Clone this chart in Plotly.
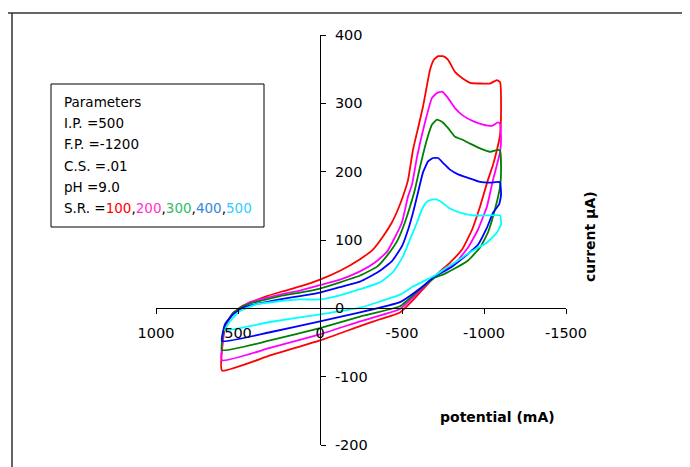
import plotly.graph_objects as go

# ---- data (potential mV, current uA) ----
scan_rates = ["100", "200", "300", "400", "500"]

pot_100 = [598, 579, 530, 470, 409, 323, 226, 122, 0, -122, -244, -323, -384, -439, -476, -506, -537, -567, -598, -628,
           -671, -695, -720, -750, -780, -823, -866, -915, -976, -1037, -1079, -1098, -1104, -1098, -1079, -1055, -1024,
           -976, -927, -866, -793, -732, -689, -628, -567, -488, -366, -244, 0, 305, 598]
cur_100 = [-91, -28, -7, 4, 10, 18, 25, 32, 42, 55, 72, 86, 105, 126, 145, 164, 188, 232, 264, 295,
           349, 364, 369, 369, 364, 346, 337, 330, 329, 329, 334, 331, 291, 254, 232, 210, 188,
           149, 115, 86, 67, 54, 44, 28, 12, -6, -16, -26, -47, -69, -91]

pot_200 = [598, 579, 530, 470, 427, 244, 122, 0, -122, -244, -335, -409, -457, -500, -537, -561, -592, -640, -683, -713,
           -744, -780, -823, -872, -933, -994, -1049, -1085, -1098, -1104, -1098, -1079, -1055, -1018, -963, -903, -835,
           -762, -701, -610, -488, -244, 0, 305, 598]
cur_200 = [-76, -26, -7, 3, 9, 20, 26, 34, 42, 54, 67, 83, 104, 126, 164, 181, 222, 272, 308, 315,
           317, 308, 293, 282, 274, 269, 267, 272, 270, 247, 229, 210, 188, 149, 115, 89, 69,
           57, 47, 26, -1, -19, -38, -58, -76]

pot_300 = [598, 579, 530, 470, 427, 244, 122, 0, -122, -244, -348, -415, -476, -518, -549, -579, -610, -652, -683, -713,
           -744, -780, -823, -866, -915, -976, -1037, -1085, -1098, -1104, -1098, -1067, -1024, -976, -903, -835, -756,
           -701, -610, -488, -244, 0, 305, 598]
cur_300 = [-61, -25, -7, 3, 7, 18, 23, 29, 38, 48, 61, 79, 101, 126, 149, 174, 207, 247, 269, 276,
           273, 264, 251, 247, 241, 234, 229, 232, 231, 203, 178, 145, 111, 89, 70, 60, 50,
           45, 28, 3, -12, -29, -47, -61]

pot_400 = [598, 579, 530, 470, 427, 244, 122, 0, -122, -244, -354, -439, -500, -537, -567, -592, -628, -659, -689, -720,
           -750, -793, -842, -903, -976, -1037, -1085, -1098, -1104, -1092, -1055, -1018, -963, -884, -805, -732, -701,
           -610, -488, -244, 0, 305, 598]
cur_400 = [-48, -23, -9, 1, 4, 13, 18, 23, 31, 39, 53, 69, 91, 115, 140, 164, 199, 215, 220, 220,
           213, 203, 196, 191, 185, 184, 185, 184, 166, 152, 140, 118, 93, 76, 61, 51, 47,
           29, 9, -6, -19, -35, -48]

pot_500 = [579, 549, 488, 384, 262, 122, 0, -122, -244, -366, -445, -506, -549, -592, -622, -652, -683, -713, -744, -793,
           -854, -933, -1018, -1098, -1104, -1079, -1018, -957, -896, -835, -774, -713, -652, -567, -488, -366, -244,
           0, 305, 579]
cur_500 = [-32, -19, -4, 6, 10, 13, 13, 19, 28, 38, 53, 76, 101, 126, 145, 156, 159, 159, 155, 146,
           140, 136, 136, 136, 123, 111, 96, 88, 79, 69, 60, 50, 42, 32, 20, 10, 1,
           -9, -20, -32]

x_ticks = [1000, 500, 0, -500, -1000, -1500]
y_ticks = [-200, -100, 0, 100, 200, 300, 400]

param_lines = ["Parameters", "I.P. =500", "F.P. =-1200", "C.S. =.01", "pH =9.0"]

line_colors = ["#ff0000", "#ff00ff", "#008000", "#0000ff", "#00ffff"]
text_colors = ["#ff0000", "#ff33cc", "#33bb66", "#3388dd", "#33ccff"]

series = [(pot_100, cur_100), (pot_200, cur_200), (pot_300, cur_300), (pot_400, cur_400), (pot_500, cur_500)]

fig = go.Figure()
for (px_, cy_), col, sr in zip(series, line_colors, scan_rates):
    fig.add_trace(go.Scatter(x=px_, y=cy_, mode="lines", name=sr,
                             line=dict(color=col, width=1.8, shape="spline", smoothing=0.4)))

tick_font = dict(family="DejaVu Sans, Verdana, sans-serif", size=14.5, color="#000")

# page body has an 8px margin, so the figure is offset by (8, 8)
fig.update_layout(
    width=690, height=467,
    margin=dict(l=148, r=132, t=27, b=30),
    paper_bgcolor="white", plot_bgcolor="white",
    showlegend=False,
    xaxis=dict(range=[1000, -1500], tickvals=x_ticks, ticktext=[str(v) for v in x_ticks],
               showgrid=False, zeroline=False, showline=True, linecolor="#000", linewidth=1,
               ticks="outside", ticklen=5, tickcolor="#000", anchor="free", position=1/3,
               tickfont=tick_font, ticklabelstandoff=6),
    yaxis=dict(range=[-200, 400], tickvals=y_ticks, ticktext=[str(v) for v in y_ticks],
               showgrid=False, zeroline=False, showline=True, linecolor="#000", linewidth=1,
               ticks="outside", ticklen=5, tickcolor="#000", anchor="free", position=0.4,
               side="right", tickfont=tick_font, ticklabelstandoff=6),
)

def px2x(p):
    return (p - 156) / 410

def py2y(p):
    return (445 - p) / 410

# chart outer border (partially visible)
fig.add_shape(type="line", xref="paper", yref="paper", x0=px2x(7), x1=px2x(700), y0=py2y(13), y1=py2y(13),
              line=dict(color="#333", width=1.5))
fig.add_shape(type="line", xref="paper", yref="paper", x0=px2x(12), x1=px2x(12), y0=py2y(13), y1=py2y(480),
              line=dict(color="#333", width=1.5))

# parameters box
fig.add_shape(type="rect", xref="paper", yref="paper", x0=px2x(51), x1=px2x(264), y0=py2y(227), y1=py2y(84),
              line=dict(color="#000", width=1), fillcolor="rgba(0,0,0,0)")
box_font = dict(family="DejaVu Sans, Verdana, sans-serif", size=13.5, color="#000")
ys = [102, 123, 144, 166, 187]
for t, yy in zip(param_lines, ys):
    fig.add_annotation(text=t, xref="paper", yref="paper", x=px2x(62), y=py2y(yy), xanchor="left",
                       yanchor="middle", showarrow=False, font=box_font)
sr_text = "S.R. =" + ",".join(f'<span style="color:{c}">{s}</span>' for s, c in zip(scan_rates, text_colors))
fig.add_annotation(text=sr_text, xref="paper", yref="paper", x=px2x(62), y=py2y(208), xanchor="left",
                   yanchor="middle", showarrow=False, font=box_font)

title_font = dict(family="DejaVu Sans, Verdana, sans-serif", size=14, color="#000")
fig.add_annotation(text="<b>potential (mA)</b>", xref="paper", yref="paper", x=px2x(497), y=py2y(417),
                   xanchor="center", yanchor="middle", showarrow=False, font=title_font)
fig.add_annotation(text="<b>current µA)</b>", xref="paper", yref="paper", x=px2x(590), y=py2y(237),
                   xanchor="center", yanchor="middle", showarrow=False, textangle=-90, font=title_font)

fig.write_html("out.html")
